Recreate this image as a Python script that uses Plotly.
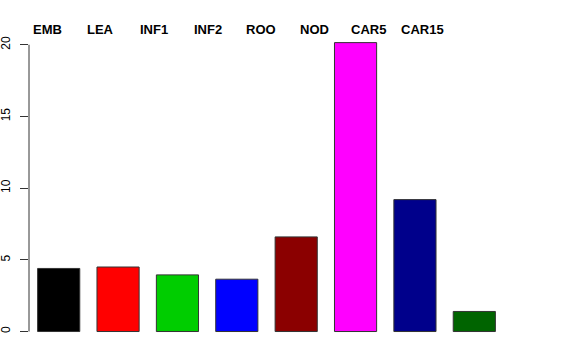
import plotly.graph_objects as go

categories = ["EMB", "LEA", "INF1", "INF2", "ROO", "NOD", "CAR5", "CAR15"]
values = [4.4, 4.5, 3.95, 3.65, 6.6, 20.15, 9.2, 1.4]
colors = ["#000000", "#FF0000", "#00CD00", "#0000FF", "#8B0000", "#FF00FF", "#00008B", "#006400"]
y_ticks = [0, 5, 10, 15, 20]

font_family = "Liberation Sans, Arial, Helvetica, sans-serif"

plot_top = 31
plot_bottom_m = 17
fig_h = 360
h = fig_h - plot_top - plot_bottom_m
label_y_px = 29.5

fig = go.Figure()
fig.add_trace(go.Bar(
    x=categories, y=values,
    marker=dict(color=colors, line=dict(color="#333333", width=1)),
    width=0.71,
))

# category labels along the top
for i, c in enumerate(categories):
    fig.add_annotation(
        x=0.0379 + 0.1128 * i, y=1 + (plot_top - label_y_px) / h,
        xref="paper", yref="paper",
        text="<b>%s</b>" % c, showarrow=False,
        font=dict(family=font_family, size=13, color="black"),
        xanchor="center", yanchor="middle",
    )

# y-axis line spanning only 0..20
fig.add_shape(type="line", xref="paper", yref="y", x0=0, x1=0, y0=y_ticks[0], y1=y_ticks[-1],
              line=dict(color="#333333", width=1))

fig.update_layout(
    width=576, height=fig_h,
    margin=dict(l=29, r=72, t=plot_top, b=plot_bottom_m, autoexpand=False),
    paper_bgcolor="white", plot_bgcolor="white",
    showlegend=False,
    font=dict(family=font_family, size=12, color="black"),
    xaxis=dict(visible=False, range=[-0.5, 7.5], automargin=False),
    yaxis=dict(
        range=[-0.8, 20.96], tickvals=y_ticks, ticktext=[str(v) for v in y_ticks],
        showgrid=False, zeroline=False, showline=False, automargin=False,
        ticks="outside", ticklen=8, tickcolor="#333333", tickwidth=1,
        tickangle=-90, tickfont=dict(size=12, color="black"),
        ticklabelstandoff=5,
    ),
)

fig.write_html(
    "out.html",
    config={"displayModeBar": False},
    post_script="document.body.style.margin='0';document.body.style.overflow='hidden';",
)
